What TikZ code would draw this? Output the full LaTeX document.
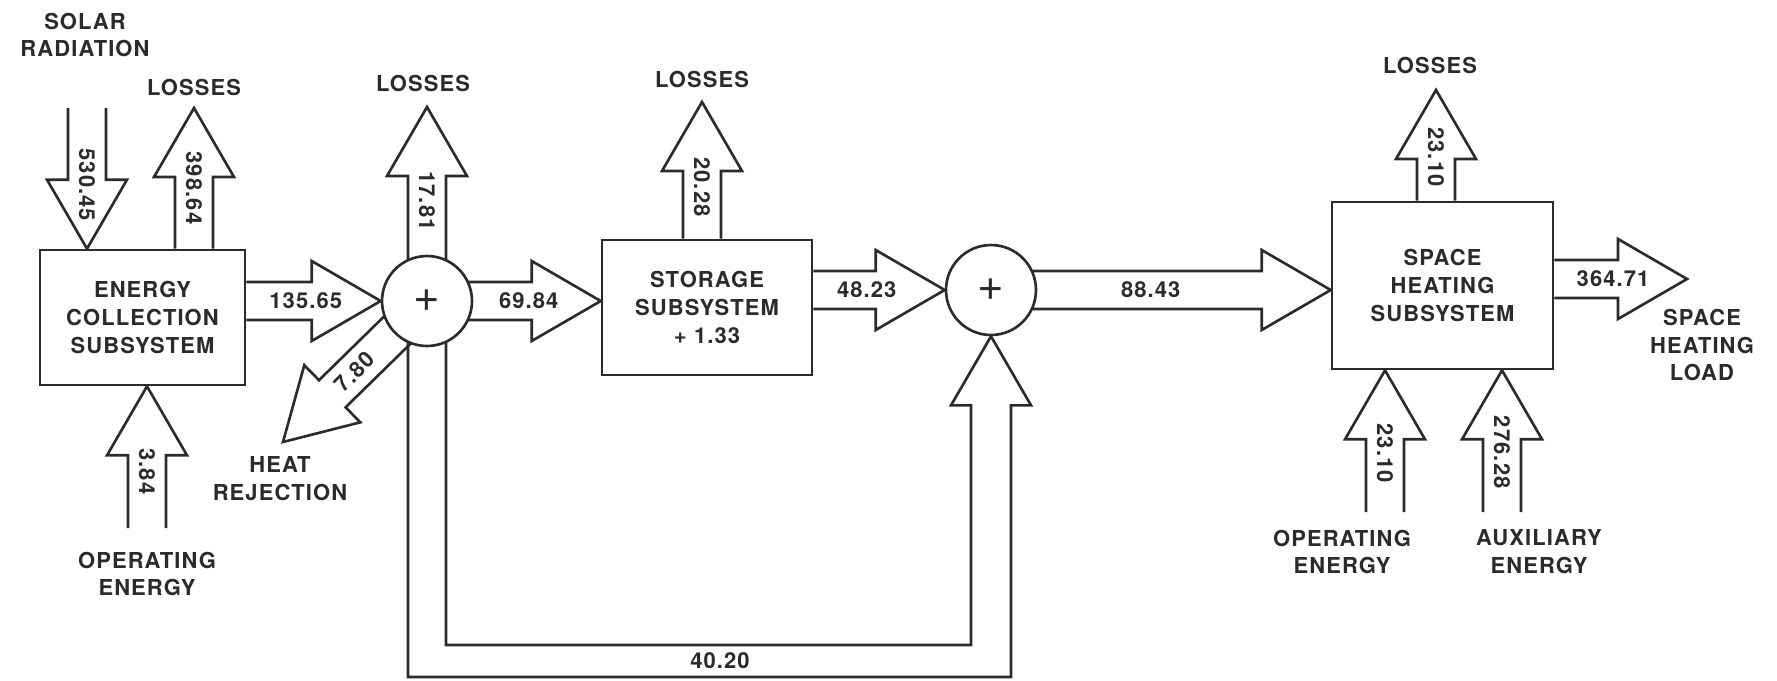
\documentclass[tikz,border=0pt]{standalone}
\usepackage{fontspec}
\setmainfont{TeX Gyre Heros}[LetterSpace=5]
\usetikzlibrary{calc}

\definecolor{ink}{gray}{0.17}
\newcommand{\shaftw}{0.38cm}
\newcommand{\headw}{0.8cm}
\newcommand{\headl}{1.38cm}

\pgfdeclarelayer{bg}
\pgfsetlayers{bg,main}

\tikzset{
  every node/.style={font=\fontsize{12.5}{15.9}\selectfont\bfseries, text=ink},
  blk/.style={draw=ink, line width=1.5pt, fill=white, align=center, inner sep=0pt},
  sumnode/.style={circle, draw=ink, line width=1.5pt, fill=white, minimum size=1.8cm,
    inner sep=0pt, font=\fontsize{26}{26}\selectfont},
  flowline/.style={draw=ink, line width=1.5pt},
  lbl/.style={align=center},
  val/.style={inner sep=0pt}
}

% 太い矢印: [回転]{名前}{始点}{終点}{数値}{ラベル位置}
\newcommand{\flowarrow}[6][0]{%
  \coordinate (hb) at ($(#4)!\headl!(#3)$);
  \draw[flowline] ($(#3)!\shaftw!90:(#4)$) -- ($(hb)!\shaftw!-90:(#3)$)
    -- ($(hb)!\headw!-90:(#3)$) -- (#4) -- ($(hb)!\headw!90:(#3)$)
    -- ($(hb)!\shaftw!90:(#3)$) -- ($(#3)!\shaftw!-90:(#4)$);
  \node[val, rotate=#1] (#2) at ($(#4)!#6!(#3)$) {#5};
}

\begin{document}
\begin{tikzpicture}[x=0.02cm, y=-0.02cm]
  \useasboundingbox (0,0) rectangle (1777,680);

  % サブシステム
  \node[blk, minimum width=4.1cm, minimum height=2.7cm] (ecs) at (142.5,317.5) {ENERGY\\COLLECTION\\SUBSYSTEM};
  \node[blk, minimum width=4.2cm, minimum height=2.7cm] (store) at (707,307.5) {STORAGE\\SUBSYSTEM\\+ 1.33};
  \node[blk, minimum width=4.42cm, minimum height=3.34cm] (shs) at (1442.5,285.5) {SPACE\\HEATING\\SUBSYSTEM};

  % 加算点
  \node[sumnode] (sum1) at (427,301) {+};
  \node[sumnode] (sum2) at (991,290) {+};

  % ラベル
  \node[lbl] (solar) at (85,35) {SOLAR\\RADIATION};
  \node[lbl] (lossA) at (194,87) {LOSSES};
  \node[lbl] (lossB) at (423,83) {LOSSES};
  \node[lbl] (lossC) at (702,79) {LOSSES};
  \node[lbl] (lossD) at (1430,65) {LOSSES};
  \node[lbl] (opA) at (147,574) {OPERATING\\ENERGY};
  \node[lbl] (rej) at (280,479) {HEAT\\REJECTION};
  \node[lbl] (opB) at (1342,552) {OPERATING\\ENERGY};
  \node[lbl] (aux) at (1539,552) {AUXILIARY\\ENERGY};
  \node[lbl] (load) at (1702,345) {SPACE\\HEATING\\LOAD};
  \node[val] (loop) at (720,661) {40.20};

  % 端点
  \coordinate (solarin) at (87,108);
  \coordinate (lossAout) at (194,108);
  \coordinate (lossBout) at (427,107);
  \coordinate (lossCout) at (702,102);
  \coordinate (lossDout) at (1436,90);
  \coordinate (loadout) at (1687,279);
  \coordinate (opAin) at (147,528);
  \coordinate (opBin) at (1385,512);
  \coordinate (auxin) at (1502,512);
  \coordinate (rejout) at (283,442);

  % 流れ
  \begin{pgfonlayer}{bg}
    \flowarrow[-90]{vsolar}{solarin}{ecs.north -| solarin}{530.45}{1.28cm}
    \flowarrow[-90]{vlossA}{ecs.north -| lossAout}{lossAout}{398.64}{1.6cm}
    \flowarrow[-90]{vopA}{opAin}{ecs.south -| opAin}{3.84}{1.7cm}
    \flowarrow{vcoll}{ecs.east |- sum1}{sum1.west}{135.65}{1.5cm}
    \flowarrow[-90]{vlossB}{sum1.center}{lossBout}{17.81}{1.88cm}
    \flowarrow[45]{vrej}{sum1.center}{rejout}{7.80}{2.0cm}
    \flowarrow{vin}{sum1.center}{store.west |- sum1}{69.84}{1.44cm}
    \flowarrow[-90]{vlossC}{store.north -| lossCout}{lossCout}{20.28}{1.7cm}
    \flowarrow{vout}{store.east |- sum2}{sum2.west}{48.23}{1.56cm}
    \flowarrow{vdel}{sum2.center}{shs.west |- sum2}{88.43}{3.6cm}
    \flowarrow[-90]{vlossD}{shs.north -| lossDout}{lossDout}{23.10}{1.34cm}
    \flowarrow{vload}{shs.east |- loadout}{loadout}{364.71}{1.48cm}
    \flowarrow[-90]{vopB}{opBin}{shs.south -| opBin}{23.10}{1.66cm}
    \flowarrow[-90]{vaux}{auxin}{shs.south -| auxin}{276.28}{1.64cm}
    % 戻り
    \draw[flowline] ([xshift=-0.38cm]sum1.center) |- ([yshift=-0.32cm]loop.center)
      -| ($(sum2.south)+(20,69)$) -- ($(sum2.south)+(40,69)$) -- (sum2.south)
      -- ($(sum2.south)+(-40,69)$) -- ($(sum2.south)+(-20,69)$)
      |- ([yshift=0.32cm]loop.center) -| ([xshift=0.38cm]sum1.center);
  \end{pgfonlayer}
\end{tikzpicture}
\end{document}
